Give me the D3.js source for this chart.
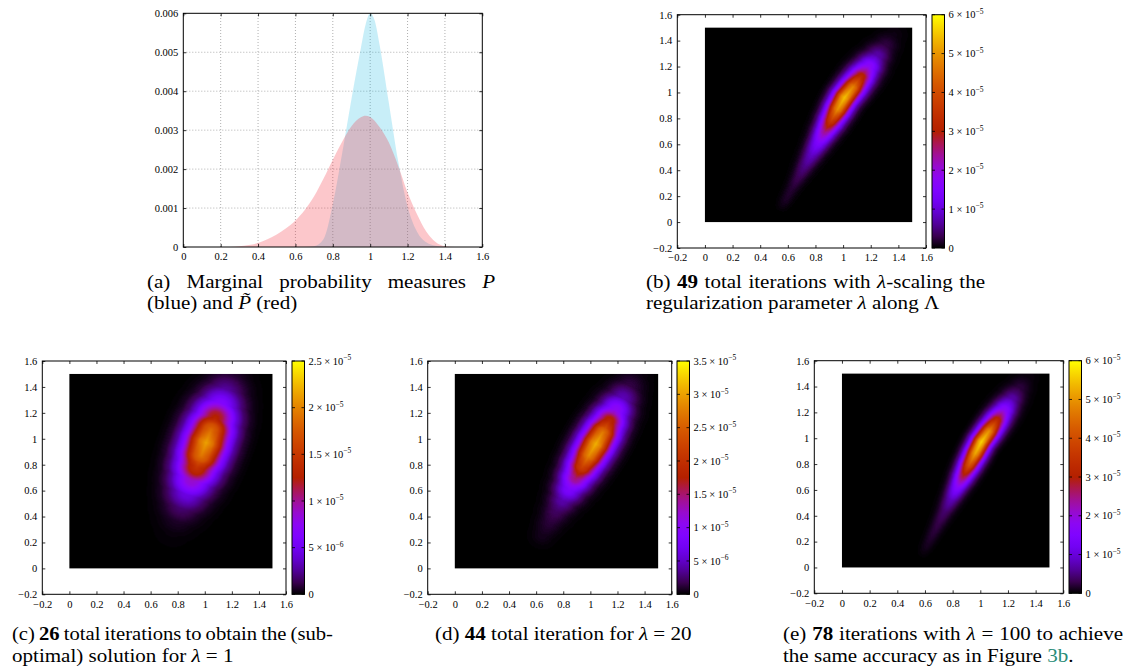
<!DOCTYPE html>
<html>
<head>
<meta charset="utf-8">
<script src="https://cdn.jsdelivr.net/npm/d3@7"></script>
<style>
  body { margin: 0; background: #fff; }
  svg { display: block; }
  .tick text { font-family: "Liberation Serif", serif; font-size: 10.5px; fill: #000; }
  .tick line { stroke: #000; stroke-width: 0.8; }
  .cap { font-family: "Liberation Serif", serif; font-size: 19.5px; fill: #000; }
  .cb { font-family: "Liberation Serif", serif; font-size: 10.5px; fill: #000; }
</style>
</head>
<body>
<svg id="fig" width="1128" height="669"></svg>
<script>
// ---------- panel (a): marginals ----------
const blueX = [0.65, 0.7, 0.75, 0.8, 0.85, 0.9, 0.95, 0.975, 1.0, 1.025, 1.05, 1.1, 1.15, 1.2, 1.25, 1.3, 1.35, 1.4];
const blueY = [0, 0.00002, 0.0002, 0.0011, 0.0024, 0.0038, 0.0051, 0.0057, 0.006, 0.0058, 0.0052, 0.0037, 0.0022, 0.00104, 0.0004, 0.00012, 0.00003, 0];
const redX = [0.25, 0.3, 0.35, 0.4, 0.45, 0.5, 0.55, 0.6, 0.65, 0.7, 0.75, 0.8, 0.85, 0.9, 0.95, 0.975, 1.0, 1.05, 1.1, 1.15, 1.2, 1.25, 1.3, 1.35, 1.4, 1.45];
const redY = [0, 0.00002, 0.00005, 0.0001, 0.0002, 0.00032, 0.00048, 0.00068, 0.00095, 0.0013, 0.00175, 0.00224, 0.0027, 0.0031, 0.00333, 0.00337, 0.00334, 0.00308, 0.00268, 0.00208, 0.0014, 0.00085, 0.0004, 0.00013, 0.00002, 0];
const aTicksX = [0, 0.2, 0.4, 0.6, 0.8, 1, 1.2, 1.4, 1.6];
const aTicksY = [0, 0.001, 0.002, 0.003, 0.004, 0.005, 0.006];

// ---------- heat maps ----------
const mapTicks = [-0.2, 0, 0.2, 0.4, 0.6, 0.8, 1, 1.2, 1.4, 1.6];

// gnuplot default pm3d palette (black - blue - red - yellow), 21 stops
const paletteColors = ["#000000", "#39004f", "#510096", "#6301ce", "#7202f3", "#8004ff", "#8c07f3",
  "#970bce", "#a11096", "#ab174f", "#b42000", "#bd2a00", "#c63700", "#ce4600", "#d55700",
  "#dd6c00", "#e48300", "#eb9d00", "#f2ba00", "#f9db00", "#ffff00"];

// falloff across the ridge (distance in ridge widths -> relative density)
const acrossD = [0, 0.5, 1, 1.5, 2, 2.5, 3, 3.5];
const acrossV = [1, 0.88, 0.61, 0.32, 0.135, 0.044, 0.011, 0];

// (b) lambda-scaling: ridge points (lower-left to upper-right), relative density, ridge width
const bRidgeX = [0.534, 0.582, 0.629, 0.677, 0.724, 0.772, 0.82, 0.867, 0.915, 0.962, 1.01, 1.07, 1.129, 1.189, 1.248, 1.308, 1.367, 1.427];
const bRidgeY = [0.08, 0.168, 0.256, 0.344, 0.432, 0.52, 0.608, 0.696, 0.784, 0.872, 0.96, 1.04, 1.121, 1.201, 1.282, 1.362, 1.442, 1.523];
const bRidgeI = [0, 0.025, 0.035, 0.06, 0.1, 0.16, 0.27, 0.45, 0.68, 0.91, 1.0, 0.88, 0.6, 0.32, 0.13, 0.045, 0.012, 0];
const bRidgeW = [0.026, 0.029, 0.032, 0.036, 0.04, 0.044, 0.047, 0.05, 0.053, 0.055, 0.056, 0.058, 0.06, 0.06, 0.058, 0.056, 0.054, 0.052];
const bPeak = 5.5e-5;
const bCbarMax = 6e-5;
const bCbarTicks = [0, 1e-5, 2e-5, 3e-5, 4e-5, 5e-5, 6e-5];
const bCbarMant = ["0", "1", "2", "3", "4", "5", "6"];
const bCbarExp = ["", "−5", "−5", "−5", "−5", "−5", "−5"];

// (c) lambda = 1
const cRidgeX = [0.77, 0.805, 0.839, 0.873, 0.907, 0.942, 0.976, 1.01, 1.044, 1.078, 1.113, 1.147, 1.181, 1.215];
const cRidgeY = [0.312, 0.406, 0.5, 0.594, 0.688, 0.782, 0.876, 0.97, 1.064, 1.158, 1.252, 1.346, 1.44, 1.534];
const cRidgeI = [0.01, 0.033, 0.094, 0.22, 0.427, 0.685, 0.91, 1.0, 0.88, 0.61, 0.32, 0.135, 0.044, 0.011];
const cRidgeW = [0.085, 0.09, 0.095, 0.1, 0.102, 0.104, 0.105, 0.105, 0.105, 0.104, 0.1, 0.096, 0.092, 0.088];
const cPeak = 2.15e-5;
const cCbarMax = 2.5e-5;
const cCbarTicks = [0, 5e-6, 1e-5, 1.5e-5, 2e-5, 2.5e-5];
const cCbarMant = ["0", "5", "1", "1.5", "2", "2.5"];
const cCbarExp = ["", "−6", "−5", "−5", "−5", "−5"];

// (d) lambda = 20
const dRidgeX = [0.599, 0.648, 0.697, 0.746, 0.795, 0.844, 0.893, 0.942, 0.991, 1.04, 1.089, 1.138, 1.187, 1.236, 1.285, 1.334, 1.383];
const dRidgeY = [0.175, 0.262, 0.35, 0.437, 0.524, 0.611, 0.698, 0.786, 0.873, 0.96, 1.047, 1.134, 1.222, 1.309, 1.396, 1.483, 1.57];
const dRidgeI = [0, 0.02, 0.04, 0.07, 0.135, 0.278, 0.487, 0.726, 0.923, 1.0, 0.888, 0.621, 0.343, 0.149, 0.051, 0.014, 0.003];
const dRidgeW = [0.052, 0.055, 0.059, 0.063, 0.067, 0.071, 0.074, 0.077, 0.079, 0.08, 0.08, 0.079, 0.078, 0.076, 0.074, 0.072, 0.07];
const dPeak = 3.1e-5;
const dCbarMax = 3.5e-5;
const dCbarTicks = [0, 5e-6, 1e-5, 1.5e-5, 2e-5, 2.5e-5, 3e-5, 3.5e-5];
const dCbarMant = ["0", "5", "1", "1.5", "2", "2.5", "3", "3.5"];
const dCbarExp = ["", "−6", "−5", "−5", "−5", "−5", "−5", "−5"];

// (e) lambda = 100
const eRidgeX = [0.567, 0.611, 0.655, 0.699, 0.743, 0.787, 0.831, 0.875, 0.919, 0.963, 1.007, 1.063, 1.118, 1.174, 1.229, 1.285, 1.341, 1.396];
const eRidgeY = [0.074, 0.164, 0.254, 0.343, 0.433, 0.523, 0.613, 0.703, 0.792, 0.882, 0.972, 1.055, 1.138, 1.221, 1.304, 1.388, 1.471, 1.554];
const eRidgeI = [0, 0.02, 0.035, 0.05, 0.075, 0.14, 0.28, 0.49, 0.73, 0.92, 1.0, 0.878, 0.594, 0.31, 0.125, 0.04, 0.01, 0];
const eRidgeW = [0.025, 0.028, 0.031, 0.034, 0.037, 0.04, 0.042, 0.045, 0.047, 0.048, 0.048, 0.05, 0.052, 0.053, 0.053, 0.052, 0.05, 0.048];
const ePeak = 5.7e-5;
const eCbarMax = 6e-5;
const eCbarTicks = bCbarTicks;
const eCbarMant = bCbarMant;
const eCbarExp = bCbarExp;

// ---------- drawing ----------
const svg = d3.select("#fig");
const defs = svg.append("defs");

const fmt = d => d < 0 ? "−" + (-d) : String(d);

function frame(g, x, y, xt, yt) {
  const [bx, tx] = [y.range()[0], y.range()[1]];
  g.append("g").attr("transform", `translate(0,${bx})`)
    .call(d3.axisBottom(x).tickValues(xt).tickSize(-3).tickPadding(6).tickFormat(fmt));
  g.append("g").attr("transform", `translate(0,${tx})`)
    .call(d3.axisTop(x).tickValues(xt).tickSize(-3).tickFormat(""));
  g.append("g").attr("transform", `translate(${x.range()[0]},0)`)
    .call(d3.axisLeft(y).tickValues(yt).tickSize(-3).tickPadding(5).tickFormat(fmt));
  g.append("g").attr("transform", `translate(${x.range()[1]},0)`)
    .call(d3.axisRight(y).tickValues(yt).tickSize(-3).tickFormat(""));
  g.selectAll(".domain").remove();
  g.append("rect")
    .attr("x", x.range()[0]).attr("y", tx)
    .attr("width", x.range()[1] - x.range()[0]).attr("height", bx - tx)
    .attr("fill", "none").attr("stroke", "#000").attr("stroke-width", 1);
}

// panel (a)
{
  const x = d3.scaleLinear([0, 1.6], [183.3, 482.3]);
  const y = d3.scaleLinear([0, 0.006], [247, 13.3]);
  const g = svg.append("g");
  const grid = g.append("g").attr("stroke", "#b0b0b0").attr("stroke-dasharray", "1,2").attr("stroke-width", 1);
  aTicksX.slice(1, -1).forEach(v => grid.append("line")
    .attr("x1", x(v)).attr("x2", x(v)).attr("y1", y(0)).attr("y2", y(0.006)));
  aTicksY.slice(1, -1).forEach(v => grid.append("line")
    .attr("x1", x(0)).attr("x2", x(1.6)).attr("y1", y(v)).attr("y2", y(v)));

  const area = d3.area().x(d => x(d[0])).y0(y(0)).y1(d => y(d[1])).curve(d3.curveMonotoneX);
  g.append("path").datum(d3.zip(blueX, blueY))
    .attr("fill", "rgb(35,187,227)").attr("fill-opacity", 0.25).attr("d", area);
  g.append("path").datum(d3.zip(redX, redY))
    .attr("fill", "rgb(243,39,55)").attr("fill-opacity", 0.26).attr("d", area);
  frame(g, x, y, aTicksX, aTicksY);
}

const pal = d3.scaleLinear(d3.range(paletteColors.length).map(i => i / (paletteColors.length - 1)), paletteColors);
const lut = d3.range(256).map(i => d3.rgb(pal(i / 255)));
const grad = defs.append("linearGradient").attr("id", "pal")
  .attr("x1", 0).attr("y1", 1).attr("x2", 0).attr("y2", 0);
paletteColors.forEach((c, i) => grad.append("stop")
  .attr("offset", i / (paletteColors.length - 1)).attr("stop-color", c));

const falloff = d3.scaleLinear(acrossD, acrossV).clamp(true);

function heatmap(box, cb, rx, ry, ri, rw, peak, cmax, ticks, mant, exps) {
  const x = d3.scaleLinear([-0.2, 1.6], [box[0], box[1]]);
  const y = d3.scaleLinear([-0.2, 1.6], [box[3], box[2]]);
  const g = svg.append("g");

  const px0 = x(0), py0 = y(1.5);
  const W = Math.round(x(1.5) - px0), H = Math.round(y(0) - py0);
  const cv = document.createElement("canvas");
  cv.width = W; cv.height = H;
  const ctx = cv.getContext("2d");
  const img = ctx.createImageData(W, H);
  const n = rx.length;
  for (let j = 0; j < H; j++) {
    const vy = y.invert(py0 + (j + 0.5) * (y(0) - py0) / H);
    for (let i = 0; i < W; i++) {
      const vx = x.invert(px0 + (i + 0.5) * (x(1.5) - px0) / W);
      let v = 0;
      for (let k = 0; k < n - 1; k++) {
        const ex = rx[k + 1] - rx[k], ey = ry[k + 1] - ry[k];
        let u = ((vx - rx[k]) * ex + (vy - ry[k]) * ey) / (ex * ex + ey * ey);
        u = Math.max(0, Math.min(1, u));
        const dist = Math.hypot(vx - rx[k] - u * ex, vy - ry[k] - u * ey);
        const I = ri[k] + (ri[k + 1] - ri[k]) * u;
        const w = rw[k] + (rw[k + 1] - rw[k]) * u;
        const val = I * falloff(dist / w);
        if (val > v) v = val;
      }
      const c = lut[Math.round(Math.min(1, v * peak / cmax) * 255)];
      const p = (j * W + i) * 4;
      img.data[p] = c.r; img.data[p + 1] = c.g; img.data[p + 2] = c.b; img.data[p + 3] = 255;
    }
  }
  ctx.putImageData(img, 0, 0);
  g.append("image").attr("href", cv.toDataURL())
    .attr("x", px0).attr("y", py0)
    .attr("width", x(1.5) - px0).attr("height", y(0) - py0)
    .attr("preserveAspectRatio", "none");

  frame(g, x, y, mapTicks, mapTicks);

  // colour box
  const cy = d3.scaleLinear([0, cmax], [box[3], box[2]]);
  g.append("rect").attr("x", cb[0]).attr("y", box[2])
    .attr("width", cb[1] - cb[0]).attr("height", box[3] - box[2])
    .attr("fill", "url(#pal)").attr("stroke", "#000").attr("stroke-width", 1);
  const tk = g.append("g").attr("stroke", "#000").attr("stroke-width", 0.8);
  ticks.forEach(t => {
    tk.append("line").attr("x1", cb[0]).attr("x2", cb[0] + 3).attr("y1", cy(t)).attr("y2", cy(t));
    tk.append("line").attr("x1", cb[1] - 3).attr("x2", cb[1]).attr("y1", cy(t)).attr("y2", cy(t));
  });
  ticks.forEach((t, i) => {
    const tx = g.append("text").attr("class", "cb")
      .attr("x", cb[1] + 4).attr("y", cy(t)).attr("dy", "0.35em");
    if (exps[i] === "") { tx.text(mant[i]); return; }
    tx.append("tspan").text(mant[i] + " × 10");
    tx.append("tspan").attr("dy", -4.5).attr("font-size", 7.5).text(exps[i]);
  });
}

heatmap([677.3, 926, 14.7, 248], [932, 944.5], bRidgeX, bRidgeY, bRidgeI, bRidgeW, bPeak, bCbarMax, bCbarTicks, bCbarMant, bCbarExp);
heatmap([42.3, 286, 361, 594.3], [292, 304.5], cRidgeX, cRidgeY, cRidgeI, cRidgeW, cPeak, cCbarMax, cCbarTicks, cCbarMant, cCbarExp);
heatmap([427.7, 671.7, 361, 594.3], [677, 689.5], dRidgeX, dRidgeY, dRidgeI, dRidgeW, dPeak, dCbarMax, dCbarTicks, dCbarMant, dCbarExp);
heatmap([814.3, 1063.3, 360.7, 593.3], [1069, 1081.5], eRidgeX, eRidgeY, eRidgeI, eRidgeW, ePeak, eCbarMax, eCbarTicks, eCbarMant, eCbarExp);

// ---------- captions ----------
const capScale = 1.08;
function caption(x, y, parts, width) {
  const t = svg.append("text").attr("class", "cap")
    .attr("transform", `translate(${x},${y}) scale(${capScale},1)`);
  parts.forEach(([s, st]) => {
    const sp = t.append("tspan").text(s);
    if (st === "b") sp.attr("font-weight", "bold");
    if (st === "i") sp.attr("font-style", "italic");
    if (st === "l") sp.attr("fill", "#2a8c78");
  });
  if (width) {
    const nat = t.node().getComputedTextLength();
    const ns = parts.map(p => p[0]).join("").split(" ").length - 1;
    const ws = (width / capScale - nat) / ns;
    if (ws >= -1) {
      t.attr("word-spacing", ws);
    } else {
      t.attr("word-spacing", -1)
        .attr("textLength", width / capScale).attr("lengthAdjust", "spacingAndGlyphs");
    }
  }
}

caption(147, 288, [["(a) Marginal probability measures ", ""], ["P", "i"]], 348);
caption(147, 309, [["(blue) and ", ""], ["P\u0303", "i"], [" (red)", ""]]);
caption(646, 288, [["(b) ", ""], ["49", "b"], [" total iterations with ", ""], ["λ", "i"], ["-scaling the", ""]], 339);
caption(646, 309, [["regularization parameter ", ""], ["λ", "i"], [" along Λ", ""]]);
caption(12, 640, [["(c) ", ""], ["26", "b"], [" total iterations to obtain the (sub-", ""]], 321);
caption(12, 662, [["optimal) solution for ", ""], ["λ", "i"], [" = 1", ""]]);
caption(435, 640, [["(d) ", ""], ["44", "b"], [" total iteration for ", ""], ["λ", "i"], [" = 20", ""]]);
caption(783, 640, [["(e) ", ""], ["78", "b"], [" iterations with ", ""], ["λ", "i"], [" = 100 to achieve", ""]], 340);
caption(783, 662, [["the same accuracy as in Figure ", ""], ["3b", "l"], [".", ""]]);
</script>
</body>
</html>
